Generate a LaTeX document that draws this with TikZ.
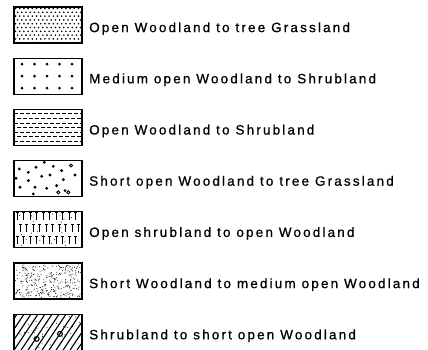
\documentclass[tikz,border=0pt]{standalone}
\usepackage{fontspec}
\setmainfont{Liberation Sans}[LetterSpace=16, FakeBold=0.8]
\usetikzlibrary{positioning}

\tikzset{
  legbox/.style={draw, line width=1.2pt, outer sep=0pt, inner sep=0pt,
    minimum width=68pt, minimum height=36pt},
  legtext/.style={inner sep=0pt, text height=14.2pt, text depth=0pt,
    font=\fontsize{13.5}{16}\selectfont},
  hatch/.style={line width=1pt}
}

\begin{document}
\begin{tikzpicture}[x=1pt,y=1pt]
  \useasboundingbox (0,0) rectangle (428,-349);
  % legend boxes and their labels
  \foreach \i/\lab in {1/Open Woodland to tree Grassland,
      2/Medium open Woodland to Shrubland,
      3/Open Woodland to Shrubland,
      4/Short open Woodland to tree Grassland,
      5/Open shrubland to open Woodland,
      6/Short Woodland to medium open Woodland,
      7/Shrubland to short open Woodland} {
    \node[legbox] (box\i) at (48,{-25-51.2*(\i-1)}) {};
    \node[legtext, right=7pt of box\i] (lab\i) {\lab};
  }
  % 1: fine dot screen
  \begin{scope}[shift={(box1.north west)}]
    \clip (0,0) rectangle (68,-36);
    \foreach \r in {0,...,9}
      \foreach \c in {0,...,16}
        \fill ({\c*4.2+mod(\r,2)*2.1+1.5},{-\r*3.8-1.5}) circle (0.9);
  \end{scope}
  % 2: open dot grid
  \begin{scope}[shift={(box2.north west)}]
    \foreach \r in {0,1,2}
      \foreach \c in {0,...,4}
        \fill ({8+\c*12.5},{-6-\r*12}) circle (1.5);
  \end{scope}
  % 3: broken horizontal lines
  \begin{scope}[shift={(box3.north west)}]
    \clip (0,0) rectangle (68,-36);
    \foreach \r in {0,...,6} {
      \pgfmathsetmacro\ph{mod(\r,2)*3}
      \draw[hatch, dash pattern=on 4pt off 2pt, dash phase=\ph pt]
        (0,{-4.5-\r*4.6}) -- (68,{-4.5-\r*4.6});
    }
  \end{scope}
  % 4: scattered dots
  \begin{scope}[shift={(box4.north west)}]
    \foreach \p in {(5.3,-8.3),(22,-6.7),(30.3,-1.7),(39.3,-5.7),(47.7,-10),
        (2,-17.7),(14.3,-11.7),(27.7,-15.7),(36,-14.3),(49.3,-19),(61,-14.3),
        (14.3,-20),(6,-26.7),(21,-26.7),(32.7,-27.7),(42.7,-25),(51,-30),
        (19.3,-33.3)}
      \fill \p circle (1.6);
    \draw[line width=0.9pt] (57,-5) circle (1.5) (44.3,-31.7) circle (1.6)
      (54.3,-31.7) circle (1.6);
  \end{scope}
  % 5: ticks
  \begin{scope}[shift={(box5.north west)}]
    \clip (0,0) rectangle (68,-36);
    \foreach \r in {0,1,2}
      \foreach \c in {0,...,10} {
        \pgfmathsetmacro\tx{3+\c*6.5+mod(\r,2)*3}
        \pgfmathsetmacro\ty{-1-\r*12}
        \draw[hatch] (\tx-1.5,\ty) -- (\tx+1.5,\ty) (\tx,\ty) -- (\tx,\ty-7.5);
      }
    \pgfmathsetseed{5}
    \foreach \k in {1,...,25}
      \fill ({2+rnd*64},{-2-rnd*32}) circle (0.5);
  \end{scope}
  % 6: fine stipple
  \begin{scope}[shift={(box6.north west)}]
    \pgfmathsetseed{17}
    \foreach \k in {1,...,300}
      \fill ({1.5+rnd*65},{-1.5-rnd*33}) circle (0.5);
  \end{scope}
  % 7: diagonal hatching with small rings
  \begin{scope}[shift={(box7.north west)}]
    \clip (0,0) rectangle (68,-36);
    \foreach \k in {-5,...,10}
      \draw[line width=1.1pt] (\k*7,-36) -- (\k*7+24,0);
    \draw[line width=1.1pt] (22.7,-24.7) circle (2.4) (46,-19.7) circle (2.4);
    \pgfmathsetseed{9}
    \foreach \k in {1,...,35}
      \fill ({2+rnd*64},{-2-rnd*32}) circle (0.5);
  \end{scope}
\end{tikzpicture}
\end{document}
